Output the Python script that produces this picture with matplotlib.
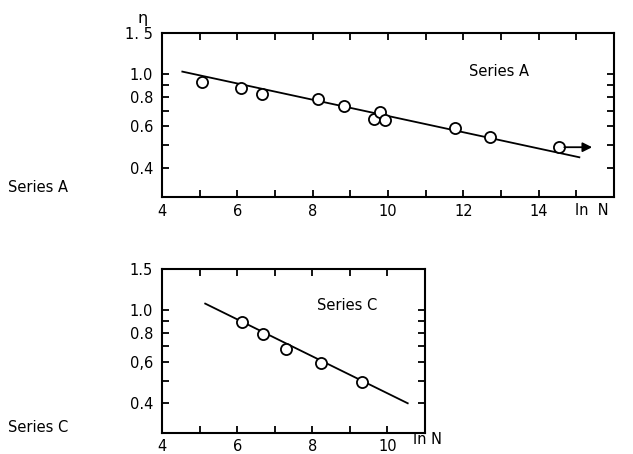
import matplotlib
matplotlib.use("Agg")
import matplotlib.pyplot as plt
from matplotlib.ticker import FixedLocator, NullFormatter, FixedFormatter

plt.rcParams['font.family'] = ['DejaVu Sans']

# ---- Series A data ----
a_lnN = [5.07, 6.11, 6.66, 8.15, 8.83, 9.63, 9.79, 9.93, 11.79, 12.72, 14.53]
a_eta = [0.931, 0.877, 0.827, 0.782, 0.735, 0.644, 0.690, 0.637, 0.593, 0.541, 0.489]
a_fit_x = [4.54, 15.08]
a_fit_y = [1.027, 0.443]
a_arrow_to = 15.42

# ---- Series C data ----
c_lnN = [6.12, 6.68, 7.30, 8.22, 9.31]
c_eta = [0.890, 0.794, 0.683, 0.593, 0.491]
c_fit_x = [5.15, 10.54]
c_fit_y = [1.067, 0.400]

y_major = [0.4, 0.6, 0.8, 1.0, 1.5]
y_labels_A = ["0.4", "0.6", "0.8", "1.0", "1. 5"]
y_labels_C = ["0.4", "0,6", "0.8", "1.0", "1.5"]
y_minor = [0.5, 0.7, 0.9]

W, H = 633, 454
fig = plt.figure(figsize=(W / 100, H / 100), dpi=100)


def px_axes(left, top, right, bottom):
    return fig.add_axes([left / W, 1 - bottom / H, (right - left) / W, (bottom - top) / H])


def style(ax, xmax, ylabels):
    ax.set_yscale('log')
    ax.set_ylim(0.3, 1.5)
    ax.set_xlim(4, xmax)
    ax.yaxis.set_major_locator(FixedLocator(y_major))
    ax.yaxis.set_major_formatter(FixedFormatter(ylabels))
    ax.yaxis.set_minor_locator(FixedLocator(y_minor))
    ax.yaxis.set_minor_formatter(NullFormatter())
    xt = list(range(4, xmax + 1))
    ax.xaxis.set_major_locator(FixedLocator(xt))
    ax.xaxis.set_major_formatter(FixedFormatter(
        [str(v) if (v % 2 == 0 and v < xmax) else "" for v in xt]))
    ax.xaxis.set_minor_locator(FixedLocator([]))
    ax.tick_params(which='both', direction='in', top=True, right=True, length=5, width=1.3,
                   labelsize=10.5, colors='black')
    ax.tick_params(axis='y', pad=6.5)
    ax.tick_params(axis='x', pad=5)
    for s in ax.spines.values():
        s.set_linewidth(1.5)


# ---- top panel ----
axA = px_axes(162, 33, 614, 197)
style(axA, 16, y_labels_A)
axA.plot(a_fit_x, a_fit_y, color='black', lw=1.3)
axA.plot(a_lnN, a_eta, 'o', ms=8, mfc='white', mec='black', mew=1.3, zorder=3)
axA.annotate('', xy=(a_arrow_to, a_eta[-1]), xytext=(a_lnN[-1] + 0.15, a_eta[-1]),
             arrowprops=dict(arrowstyle='-|>', color='black', lw=1.3, mutation_scale=14,
                             shrinkA=0, shrinkB=0))
axA.text(12.95, 1.03, "Series A", ha='center', va='center', fontsize=10.5)
axA.text(-0.042, 1.09, "η", transform=axA.transAxes, ha='center', va='center', fontsize=11.5)

# ---- bottom panel ----
axC = px_axes(162, 269, 425, 432.5)
style(axC, 11, y_labels_C)
axC.plot(c_fit_x, c_fit_y, color='black', lw=1.3)
axC.plot(c_lnN, c_eta, 'o', ms=8, mfc='white', mec='black', mew=1.3, zorder=3)
axC.text(8.93, 1.05, "Series C", ha='center', va='center', fontsize=10.5)

# axis name labels
fig.text(592 / W, 1 - 211 / H, "ln  N", ha='center', va='center', fontsize=10.5)
fig.text(428 / W, 1 - 440 / H, "ln N", ha='center', va='center', fontsize=10.5)

# left side labels
fig.text(8 / W, 1 - 187 / H, "Series A", ha='left', va='center', fontsize=10.5)
fig.text(8 / W, 1 - 428 / H, "Series C", ha='left', va='center', fontsize=10.5)

fig.savefig("out.png", dpi=100)
